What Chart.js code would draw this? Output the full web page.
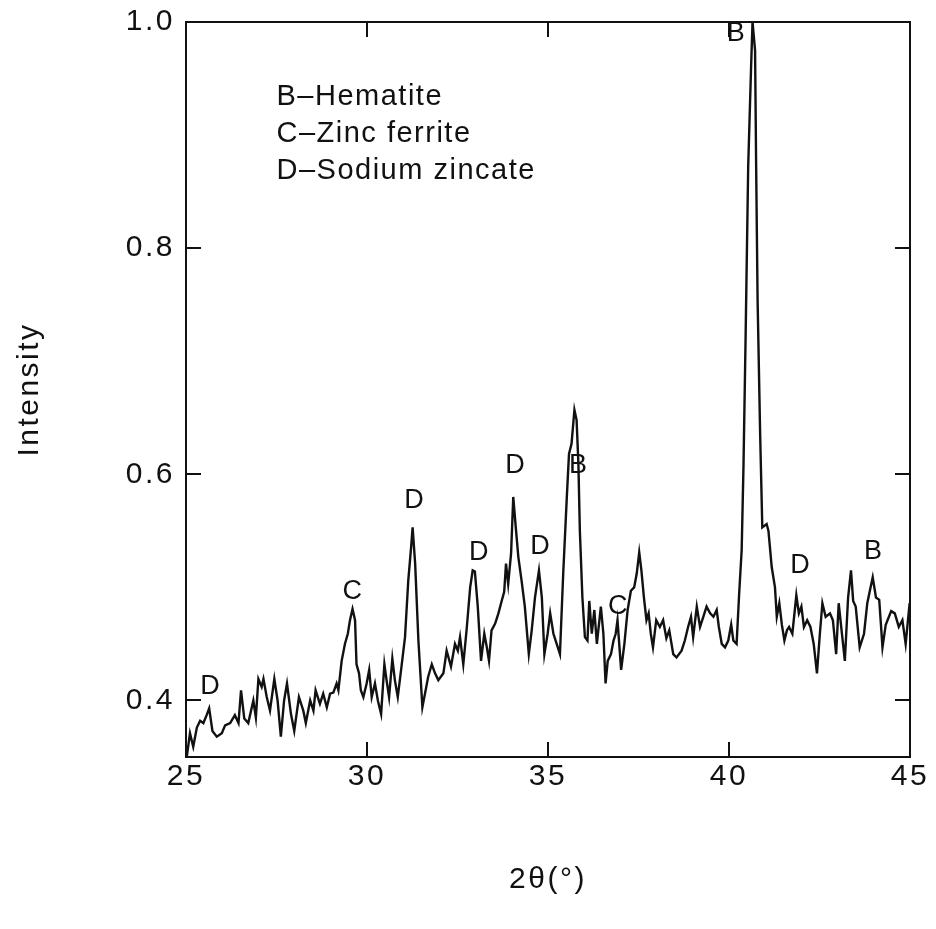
<!DOCTYPE html>
<html>
<head>
<meta charset="utf-8">
<title>XRD pattern</title>
<script src="https://cdn.jsdelivr.net/npm/chart.js@4/dist/chart.umd.min.js"></script>
<style>
  html, body { margin: 0; padding: 0; background: #ffffff; }
  canvas { display: block; }
</style>
</head>
<body>
<canvas id="xrd" width="936" height="929"></canvas>
<script>
// Diffraction angle 2θ (degrees) and normalised intensity of the scan
const twoTheta = [
  25.02, 25.11, 25.20, 25.30, 25.39, 25.48, 25.57, 25.64, 25.73, 25.85,
  25.99, 26.08, 26.22, 26.35, 26.45, 26.52, 26.61, 26.72, 26.86, 26.93,
  27.00, 27.09, 27.14, 27.23, 27.32, 27.44, 27.53, 27.62, 27.71, 27.79,
  27.90, 27.99, 28.12, 28.24, 28.31, 28.43, 28.52, 28.58, 28.70, 28.79,
  28.89, 28.98, 29.07, 29.16, 29.21, 29.30, 29.39, 29.47, 29.53, 29.60,
  29.67, 29.71, 29.78, 29.83, 29.90, 29.99, 30.06, 30.13, 30.22, 30.30,
  30.39, 30.48, 30.54, 30.61, 30.70, 30.77, 30.85, 30.96, 31.05, 31.14,
  31.22, 31.26, 31.33, 31.42, 31.53, 31.62, 31.69, 31.79, 31.88, 31.97,
  32.11, 32.20, 32.32, 32.43, 32.51, 32.57, 32.66, 32.75, 32.85, 32.92,
  32.98, 33.06, 33.15, 33.24, 33.31, 33.37, 33.44, 33.54, 33.63, 33.72,
  33.79, 33.84, 33.90, 33.98, 34.04, 34.11, 34.18, 34.27, 34.36, 34.47,
  34.55, 34.64, 34.75, 34.83, 34.90, 34.99, 35.06, 35.15, 35.24, 35.33,
  35.42, 35.52, 35.58, 35.65, 35.73, 35.79, 35.84, 35.88, 35.95, 36.02,
  36.09, 36.14, 36.21, 36.28, 36.35, 36.46, 36.53, 36.59, 36.65, 36.74,
  36.81, 36.87, 36.92, 37.02, 37.11, 37.20, 37.29, 37.38, 37.45, 37.52,
  37.58, 37.65, 37.72, 37.78, 37.84, 37.90, 37.99, 38.09, 38.18, 38.27,
  38.35, 38.46, 38.55, 38.69, 38.78, 38.87, 38.95, 39.01, 39.11, 39.20,
  39.29, 39.38, 39.48, 39.57, 39.66, 39.72, 39.80, 39.89, 39.98, 40.06,
  40.12, 40.21, 40.28, 40.35, 40.40, 40.46, 40.53, 40.61, 40.65, 40.72,
  40.75, 40.79, 40.86, 40.92, 41.04, 41.09, 41.18, 41.27, 41.32, 41.39,
  41.46, 41.53, 41.60, 41.66, 41.75, 41.86, 41.93, 42.00, 42.07, 42.16,
  42.25, 42.34, 42.43, 42.51, 42.58, 42.67, 42.79, 42.87, 42.96, 43.03,
  43.11, 43.20, 43.29, 43.37, 43.43, 43.50, 43.61, 43.73, 43.82, 43.91,
  43.97, 44.06, 44.15, 44.24, 44.33, 44.48, 44.58, 44.69, 44.79, 44.88,
  44.99
];

const intensity = [
  0.350, 0.371, 0.359, 0.376, 0.382, 0.380, 0.387, 0.393, 0.373, 0.368,
  0.371, 0.378, 0.380, 0.387, 0.380, 0.409, 0.384, 0.380, 0.400, 0.385,
  0.419, 0.412, 0.419, 0.403, 0.391, 0.419, 0.400, 0.368, 0.400, 0.415,
  0.388, 0.373, 0.403, 0.391, 0.380, 0.400, 0.391, 0.409, 0.397, 0.406,
  0.394, 0.406, 0.407, 0.415, 0.409, 0.435, 0.450, 0.459, 0.471, 0.481,
  0.471, 0.432, 0.424, 0.409, 0.403, 0.415, 0.427, 0.403, 0.415, 0.400,
  0.388, 0.432, 0.418, 0.403, 0.437, 0.418, 0.403, 0.432, 0.456, 0.506,
  0.536, 0.553, 0.521, 0.453, 0.394, 0.409, 0.421, 0.432, 0.424, 0.418,
  0.424, 0.444, 0.430, 0.450, 0.444, 0.456, 0.432, 0.462, 0.500, 0.515,
  0.514, 0.483, 0.435, 0.459, 0.447, 0.435, 0.462, 0.468, 0.477, 0.488,
  0.496, 0.521, 0.503, 0.530, 0.580, 0.553, 0.527, 0.506, 0.483, 0.441,
  0.462, 0.491, 0.515, 0.491, 0.441, 0.459, 0.477, 0.459, 0.450, 0.441,
  0.512, 0.580, 0.618, 0.627, 0.657, 0.648, 0.609, 0.550, 0.491, 0.456,
  0.453, 0.488, 0.459, 0.480, 0.450, 0.483, 0.459, 0.415, 0.435, 0.441,
  0.453, 0.459, 0.471, 0.427, 0.450, 0.480, 0.497, 0.500, 0.512, 0.531,
  0.515, 0.491, 0.471, 0.477, 0.459, 0.447, 0.471, 0.465, 0.471, 0.455,
  0.462, 0.441, 0.438, 0.444, 0.453, 0.465, 0.474, 0.456, 0.483, 0.465,
  0.474, 0.483, 0.477, 0.474, 0.480, 0.465, 0.450, 0.447, 0.453, 0.467,
  0.453, 0.450, 0.494, 0.533, 0.607, 0.724, 0.872, 0.960, 1.000, 0.975,
  0.872, 0.754, 0.636, 0.553, 0.556, 0.550, 0.518, 0.500, 0.474, 0.486,
  0.467, 0.453, 0.462, 0.465, 0.459, 0.493, 0.477, 0.483, 0.465, 0.471,
  0.465, 0.450, 0.424, 0.459, 0.486, 0.474, 0.477, 0.471, 0.441, 0.486,
  0.462, 0.435, 0.491, 0.515, 0.488, 0.483, 0.447, 0.459, 0.486, 0.500,
  0.509, 0.491, 0.489, 0.447, 0.467, 0.479, 0.477, 0.465, 0.471, 0.450,
  0.486
];

// Axis ticks
const xTicks = [25, 30, 35, 40, 45];
const yTicks = [0.4, 0.6, 0.8, 1.0];

// Phase letters placed above the reflections (2θ, intensity)
const peakLetters = ['D', 'C', 'D', 'D', 'D', 'D', 'B', 'C', 'B', 'D', 'B'];
const peakX = [25.66, 29.59, 31.30, 33.09, 34.09, 34.78, 35.83, 36.93, 40.19, 41.96, 43.98];
const peakY = [0.412, 0.496, 0.577, 0.531, 0.608, 0.536, 0.608, 0.483, 0.990, 0.519, 0.532];

// Phase key
const keyLines = ['B\u2013Hematite', 'C\u2013Zinc ferrite', 'D\u2013Sodium zincate'];
const keyX = 27.5;
const keyY = [0.934, 0.901, 0.868];

const FONT = "'Liberation Sans', Arimo, Arial, sans-serif";
const INK = '#111111';

// Open letter spacing for the axis labels and titles
const spacedText = {
  id: 'spacedText',
  beforeDraw(chart) { chart.ctx.letterSpacing = '2.5px'; }
};

// Boxed frame with inward ticks on all four sides, plus the text annotations
const frameAndLabels = {
  id: 'frameAndLabels',
  afterDatasetsDraw(chart) {
    const { ctx, chartArea: a, scales: { x, y } } = chart;
    const tickLen = 15;
    ctx.save();
    ctx.strokeStyle = INK;
    ctx.lineWidth = 2;
    ctx.strokeRect(a.left, a.top, a.right - a.left, a.bottom - a.top);
    ctx.beginPath();
    xTicks.forEach(v => {
      const px = Math.round(x.getPixelForValue(v));
      ctx.moveTo(px, a.bottom); ctx.lineTo(px, a.bottom - tickLen);
      ctx.moveTo(px, a.top); ctx.lineTo(px, a.top + tickLen);
    });
    yTicks.forEach(v => {
      const py = Math.round(y.getPixelForValue(v));
      ctx.moveTo(a.left, py); ctx.lineTo(a.left + tickLen, py);
      ctx.moveTo(a.right, py); ctx.lineTo(a.right - tickLen, py);
    });
    ctx.stroke();

    ctx.fillStyle = INK;
    ctx.letterSpacing = '0px';
    ctx.font = `27px ${FONT}`;
    ctx.textAlign = 'center';
    ctx.textBaseline = 'middle';
    peakLetters.forEach((t, i) => {
      ctx.fillText(t, x.getPixelForValue(peakX[i]), y.getPixelForValue(peakY[i]));
    });

    ctx.letterSpacing = '1.5px';
    ctx.font = `29px ${FONT}`;
    ctx.textAlign = 'left';
    keyLines.forEach((t, i) => {
      ctx.fillText(t, x.getPixelForValue(keyX), y.getPixelForValue(keyY[i]));
    });
    ctx.restore();
  }
};

new Chart(document.getElementById('xrd'), {
  type: 'line',
  data: {
    datasets: [{
      data: twoTheta.map((t, i) => ({ x: t, y: intensity[i] })),
      borderColor: INK,
      borderWidth: 2.4,
      pointRadius: 0,
      tension: 0,
      fill: false
    }]
  },
  options: {
    responsive: false,
    animation: false,
    devicePixelRatio: 1,
    layout: { padding: { top: 22, right: 26, left: 0, bottom: 0 } },
    plugins: { legend: { display: false }, tooltip: { enabled: false } },
    scales: {
      x: {
        type: 'linear',
        min: 25,
        max: 45,
        afterBuildTicks: s => { s.ticks = xTicks.map(v => ({ value: v })); },
        afterFit: s => { s.height = 172; s.paddingLeft = 0; s.paddingRight = 0; },
        grid: { display: false, drawTicks: false },
        border: { display: false },
        ticks: { padding: 2, color: INK, font: { family: FONT, size: 30 }, maxRotation: 0 },
        title: {
          display: true,
          text: '2\u03b8(\u00b0)',
          color: INK,
          font: { family: FONT, size: 30 },
          padding: { top: 0, bottom: 31 }
        }
      },
      y: {
        type: 'linear',
        min: 0.35,
        max: 1.0,
        afterBuildTicks: s => { s.ticks = yTicks.map(v => ({ value: v })); },
        afterFit: s => { s.width = 186; s.paddingTop = 0; s.paddingBottom = 0; },
        grid: { display: false, drawTicks: false },
        border: { display: false },
        ticks: { padding: 11, color: INK, font: { family: FONT, size: 30 }, callback: v => v.toFixed(1) },
        title: {
          display: true,
          text: 'Intensity',
          color: INK,
          font: { family: FONT, size: 30 },
          padding: { top: 12, bottom: 0 }
        }
      }
    }
  },
  plugins: [spacedText, frameAndLabels]
});
</script>
</body>
</html>
